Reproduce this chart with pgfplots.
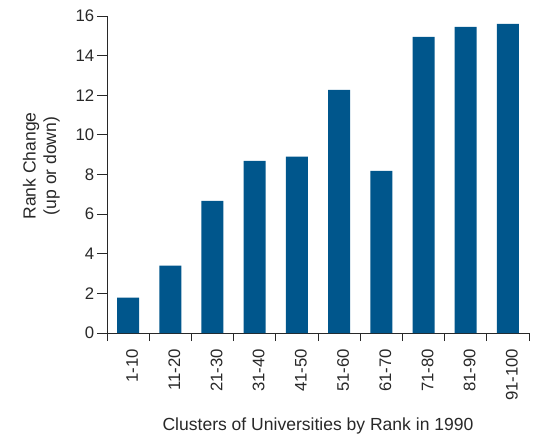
\documentclass[border=0pt]{standalone}
\usepackage{fontspec}
\setmainfont{Liberation Sans}
\usepackage{pgfplots}
\pgfplotsset{compat=1.18}
\definecolor{barblue}{RGB}{0,86,140}
\definecolor{axisgray}{RGB}{40,40,40}
\begin{document}
\fontsize{17}{20}\selectfont
\begin{tikzpicture}
\begin{axis}[
    scale only axis,
    width=422bp, height=317bp,
    axis lines=left,
    axis line style={-, line width=0.9pt, color=axisgray},
    enlargelimits=false,
    xmin=0.5, xmax=10.5,
    ymin=0, ymax=16,
    ytick={0,2,...,16},
    xtick={1,...,10},
    xticklabels={1-10,11-20,21-30,31-40,41-50,51-60,61-70,71-80,81-90,91-100},
    minor xtick={0.5,1.5,...,10.5},
    major x tick style={draw=none},
    tick align=outside,
    tick style={color=axisgray, line width=0.9pt},
    major tick length=10bp,
    minor tick length=8bp,
    x tick label style={rotate=90, anchor=east, yshift=-4bp},
    y tick label style={anchor=east, inner sep=0pt, xshift=-2.5bp},
    /pgf/number format/assume math mode=true,
    ticklabel style={font=\fontsize{16.8}{20}\selectfont, text=axisgray},
    xlabel={Clusters of Universities by Rank in 1990},
    ylabel={Rank Change\\(up or down)},
    ylabel style={align=center, font=\fontsize{17.6}{20.5}\selectfont, text=axisgray,
        at={(axis description cs:-0.1114,0.527)}, anchor=south, inner sep=0pt},
    xlabel style={font=\fontsize{17.6}{20}\selectfont, text=axisgray,
        at={(axis description cs:0.5,0)}, anchor=base, yshift=-97bp},
    ybar, bar width=22bp,
]
\addplot[fill=barblue, draw=none] coordinates {
    (1,1.78) (2,3.4) (3,6.67) (4,8.69) (5,8.9)
    (6,12.27) (7,8.18) (8,14.95) (9,15.45) (10,15.6)
};
\coordinate (o) at (rel axis cs:0,0);
\coordinate (t) at (rel axis cs:1,1);
\end{axis}
\pgfresetboundingbox
\path[use as bounding box] ([shift={(-107bp,-103bp)}]o) rectangle ([shift={(6bp,16bp)}]t);
\end{tikzpicture}
\end{document}
